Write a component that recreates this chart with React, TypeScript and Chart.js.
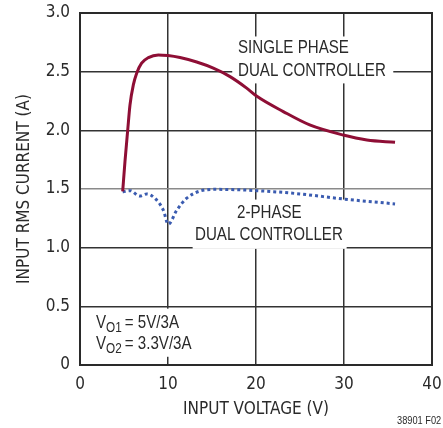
import React, { useEffect, useRef } from "react";
import { Chart, registerables } from "chart.js";

Chart.register(...registerables);

const singleX = [4.85, 5.11, 5.42, 5.68, 6.06, 6.44, 7.0, 7.77, 8.9, 10.0, 11.36, 13.26, 15.15, 17.05, 18.94, 20.1, 23.1, 26.1, 29.9, 32.6, 35.8];
const singleY = [1.48, 1.733, 2.0, 2.216, 2.387, 2.487, 2.572, 2.62, 2.643, 2.637, 2.62, 2.582, 2.53, 2.458, 2.36, 2.29, 2.16, 2.046, 1.96, 1.918, 1.898];

const twoX = [4.85, 5.68, 6.8, 7.58, 8.52, 9.47, 10.03, 11.0, 12.1, 13.8, 15.5, 20.1, 25.0, 29.9, 35.8];
const twoY = [1.475, 1.486, 1.44, 1.458, 1.42, 1.32, 1.2, 1.32, 1.42, 1.486, 1.497, 1.486, 1.458, 1.415, 1.373];

const xTicks = [0, 10, 20, 30, 40];
const yTicks = [0, 0.5, 1.0, 1.5, 2.0, 2.5, 3.0];

const FONT = "'DejaVu Sans Condensed', 'Liberation Sans Narrow', 'Roboto', sans-serif";
const ANNOT_FONT = "'Liberation Sans', Arial, sans-serif";
const TEXT = "#2a2a2a";

const annotations = {
  id: "annotations",
  beforeDatasetsDraw(chart: any) {
    const { ctx } = chart;
    const xs = chart.scales.x;
    const ys = chart.scales.y;
    ctx.save();
    ctx.fillStyle = "#ffffff";
    const box = (x0: number, x1: number, y1: number, y0: number) => {
      const l = xs.getPixelForValue(x0);
      const r = xs.getPixelForValue(x1);
      const t = ys.getPixelForValue(y1);
      const b = ys.getPixelForValue(y0);
      ctx.fillRect(l, t, r - l, b - t);
    };
    box(17.3, 35.6, 2.80, 2.40);
    box(12.8, 30.3, 1.41, 0.99);
    box(0.9, 13.5, 0.48, 0.07);
    ctx.restore();
  },
  afterDatasetsDraw(chart: any) {
    const { ctx } = chart;
    ctx.save();
    ctx.fillStyle = TEXT;
    ctx.textBaseline = "alphabetic";
    ctx.textAlign = "left";
    const sx = 0.84;
    const txt = (s: string, x: number, y: number, size: number) => {
      ctx.save();
      ctx.translate(x, y);
      ctx.scale(sx, 1);
      ctx.font = `${size}px ${ANNOT_FONT}`;
      ctx.fillText(s, 0, 0);
      const w = ctx.measureText(s).width * sx;
      ctx.restore();
      return w;
    };
    txt("SINGLE PHASE", 238, 53, 18);
    txt("DUAL CONTROLLER", 238, 76, 18);
    txt("2-PHASE", 237, 218, 18);
    txt("DUAL CONTROLLER", 195, 240, 18);
    const drawSub = (x: number, y: number, sub: string, rest: string) => {
      let w = txt("V", x, y, 18);
      w += txt(sub, x + w, y + 4, 14);
      txt(rest, x + w + 3, y, 18);
    };
    drawSub(96, 328, "O1", "= 5V/3A");
    drawSub(96, 349, "O2", "= 3.3V/3A");
    const a = chart.chartArea;
    ctx.strokeStyle = "#2a2a2a";
    ctx.lineWidth = 2;
    ctx.strokeRect(a.left, a.top, a.right - a.left, a.bottom - a.top);
    txt("38901 F02", 397, 424, 11);
    ctx.restore();
  },
};

export default function App() {
  const ref = useRef<HTMLCanvasElement>(null);
  useEffect(() => {
    document.body.style.margin = "0";
    const chart = new Chart(ref.current!, {
      type: "line",
      data: {
        datasets: [
          {
            label: "Single phase",
            data: singleX.map((x, i) => ({ x, y: singleY[i] })),
            borderColor: "#8e0e35",
            borderWidth: 3,
            pointRadius: 0,
            cubicInterpolationMode: "monotone",
            fill: false,
          },
          {
            label: "2-phase",
            data: twoX.map((x, i) => ({ x, y: twoY[i] })),
            borderColor: "#3a5bb0",
            borderWidth: 3,
            borderDash: [3, 3],
            pointRadius: 0,
            cubicInterpolationMode: "monotone",
            fill: false,
          },
        ],
      },
      options: {
        animation: false,
        responsive: false,
        maintainAspectRatio: false,
        layout: { autoPadding: false, padding: { left: 0, right: 11, top: 13, bottom: 0 } },
        plugins: { legend: { display: false }, tooltip: { enabled: false } },
        scales: {
          x: {
            type: "linear",
            min: 0,
            max: 40,
            afterBuildTicks: (s: any) => { s.ticks = xTicks.map((v) => ({ value: v })); },
            afterFit: (s: any) => { s.height = 63; s.paddingLeft = 0; s.paddingRight = 0; s.paddingTop = 0; s.paddingBottom = 0; },
            grid: {
              drawTicks: false,
              color: "#333333",
              lineWidth: 1.5,
            },
            border: { display: false },
            ticks: {
              padding: 9,
              color: TEXT,
              font: { family: FONT, size: 17 },
              callback: (v: any) => String(v),
            },
            title: {
              display: true,
              text: "INPUT VOLTAGE (V)",
              color: TEXT,
              font: { family: FONT, size: 17 },
              padding: { top: 0, bottom: 8 },
            },
          },
          y: {
            type: "linear",
            min: 0,
            max: 3,
            afterBuildTicks: (s: any) => { s.ticks = yTicks.map((v) => ({ value: v })); },
            afterFit: (s: any) => { s.width = 80; s.paddingLeft = 0; s.paddingRight = 0; s.paddingTop = 0; s.paddingBottom = 0; },
            grid: {
              drawTicks: false,
              color: (c: any) => (c.tick && c.tick.value === 1.5 ? "#8a8a8a" : "#333333"),
              lineWidth: 1.5,
            },
            border: { display: false },
            ticks: {
              padding: 10,
              color: TEXT,
              font: { family: FONT, size: 17 },
              callback: (v: any) => (v === 0 ? "0" : Number(v).toFixed(1)),
            },
            title: {
              display: true,
              text: "INPUT RMS CURRENT (A)",
              color: TEXT,
              font: { family: FONT, size: 17 },
              padding: { top: 14, bottom: 0 },
            },
          },
        },
      },
      plugins: [annotations],
    } as any);
    return () => chart.destroy();
  }, []);
  return (
    <div style={{ position: "absolute", left: 0, top: 0, width: 443, height: 428, background: "#fff" }}>
      <canvas ref={ref} width={443} height={428} style={{ width: 443, height: 428, display: "block" }} />
    </div>
  );
}
